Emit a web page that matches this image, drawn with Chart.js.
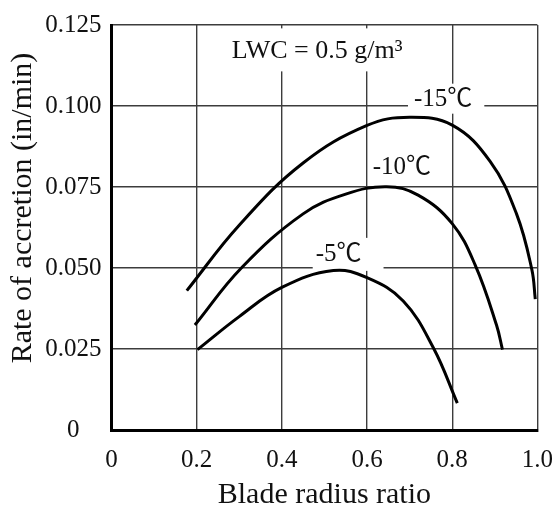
<!DOCTYPE html>
<html>
<head>
<meta charset="utf-8">
<script src="https://cdn.jsdelivr.net/npm/chart.js@4.4.1/dist/chart.umd.min.js"></script>
<style>
html, body { margin: 0; padding: 0; background: #fff; }
canvas { display: block; }
</style>
</head>
<body>
<canvas id="chart" width="552" height="510"></canvas>
<script>
// Ice accretion rate along the blade, LWC = 0.5 g/m3
const seriesNames = ['-15℃', '-10℃', '-5℃'];

const ratioM15 = [0.177, 0.300, 0.450, 0.600, 0.700, 0.800, 0.889, 0.951, 0.987, 0.995];
const rateM15  = [0.0430, 0.0632, 0.0824, 0.0940, 0.0965, 0.0941, 0.0829, 0.0667, 0.0495, 0.0404];

const ratioM10 = [0.196, 0.305, 0.450, 0.550, 0.646, 0.720, 0.800, 0.854, 0.904, 0.918];
const rateM10  = [0.0324, 0.0500, 0.0667, 0.0728, 0.0751, 0.0725, 0.0637, 0.0509, 0.0324, 0.0248];

const ratioM5 = [0.202, 0.300, 0.400, 0.521, 0.600, 0.685, 0.756, 0.812];
const rateM5  = [0.0248, 0.0350, 0.0440, 0.0492, 0.0470, 0.0398, 0.0253, 0.0083];

const xTickLabels = ['0', '0.2', '0.4', '0.6', '0.8', '1.0'];
const yTickLabels = ['0', '0.025', '0.050', '0.075', '0.100', '0.125'];

const xTitle = 'Blade radius ratio';
const yTitle = 'Rate of accretion (in/min)';
const conditionNote = 'LWC = 0.5 g/m³';

const SERIF = '"Liberation Serif", "Times New Roman", "Noto Sans CJK SC", serif';

function toPoints(xs, ys) {
  return xs.map((v, i) => ({ x: v, y: ys[i] }));
}

// Text notes placed in data coordinates; pad = [left, right, above baseline, below baseline]
// is a white knock-out behind the text so grid lines stop short of it.
const notes = [
  { text: conditionNote,  x: 0.2824, y: 0.1147, size: 26, pad: [7, 2, 30, 13] },
  { text: seriesNames[0], x: 0.7103, y: 0.1001, size: 25, pad: [6, 12, 22, 8] },
  { text: seriesNames[1], x: 0.6134, y: 0.0789, size: 25, pad: null },
  { text: seriesNames[2], x: 0.4796, y: 0.0522, size: 25, pad: [3, 22, 23, 10] }
];

const notesPlugin = {
  id: 'notes',
  beforeDatasetsDraw(chart) {
    const { ctx } = chart;
    const xs = chart.scales.x, ys = chart.scales.y;
    ctx.save();
    ctx.textAlign = 'left';
    ctx.textBaseline = 'alphabetic';
    notes.forEach(n => {
      ctx.font = n.size + 'px ' + SERIF;
      const px = xs.getPixelForValue(n.x);
      const py = ys.getPixelForValue(n.y);
      const w = ctx.measureText(n.text).width;
      if (n.pad) {
        ctx.fillStyle = '#ffffff';
        ctx.fillRect(px - n.pad[0], py - n.pad[2], w + n.pad[0] + n.pad[1], n.pad[2] + n.pad[3]);
      }
      ctx.fillStyle = '#111111';
      ctx.fillText(n.text, px, py);
    });
    ctx.restore();
  },
  afterDraw(chart) {
    const { ctx } = chart;
    ctx.save();
    ctx.font = '30px ' + SERIF;
    ctx.fillStyle = '#111111';
    ctx.textAlign = 'center';
    ctx.textBaseline = 'middle';
    ctx.translate(23, 208);
    ctx.rotate(-Math.PI / 2);
    ctx.fillText(yTitle, 0, 0);
    ctx.restore();
  }
};

const curveStyle = {
  borderColor: '#000000',
  borderWidth: 3,
  pointRadius: 0,
  fill: false,
  tension: 0.4,
  borderCapStyle: 'butt',
  borderJoinStyle: 'round'
};

new Chart(document.getElementById('chart'), {
  type: 'line',
  data: {
    datasets: [
      Object.assign({ label: seriesNames[0], data: toPoints(ratioM15, rateM15) }, curveStyle),
      Object.assign({ label: seriesNames[1], data: toPoints(ratioM10, rateM10) }, curveStyle),
      Object.assign({ label: seriesNames[2], data: toPoints(ratioM5, rateM5) }, curveStyle)
    ]
  },
  options: {
    responsive: false,
    animation: false,
    devicePixelRatio: 1,
    layout: { padding: { left: 0, top: 18, right: 14.6, bottom: 0 } },
    plugins: {
      legend: { display: false },
      tooltip: { enabled: false }
    },
    scales: {
      x: {
        type: 'linear',
        min: 0,
        max: 1,
        ticks: {
          stepSize: 0.2,
          autoSkip: false,
          maxRotation: 0,
          padding: 15,
          color: '#111111',
          font: { family: SERIF, size: 25 },
          callback: (v, i) => xTickLabels[i]
        },
        grid: { color: '#3c3c3c', lineWidth: 1.4, drawTicks: false },
        border: { display: true, color: '#000000', width: 3 },
        title: {
          display: true,
          text: xTitle,
          color: '#111111',
          font: { family: SERIF, size: 30, lineHeight: 1 },
          padding: { top: 0, bottom: 0 }
        },
        afterFit(scale) {
          scale.height = 80;
          scale.paddingRight = 0;
          scale.paddingLeft = 0;
        }
      },
      y: {
        type: 'linear',
        min: 0,
        max: 0.125,
        ticks: {
          stepSize: 0.025,
          crossAlign: 'center',
          padding: 10,
          color: '#111111',
          font: { family: SERIF, size: 25 },
          callback: (v, i) => yTickLabels[i]
        },
        grid: { color: '#3c3c3c', lineWidth: 1.4, drawTicks: false },
        border: { display: true, color: '#000000', width: 3 },
        afterFit(scale) {
          scale.width = 111.4;
        }
      }
    }
  },
  plugins: [notesPlugin]
});
</script>
</body>
</html>
